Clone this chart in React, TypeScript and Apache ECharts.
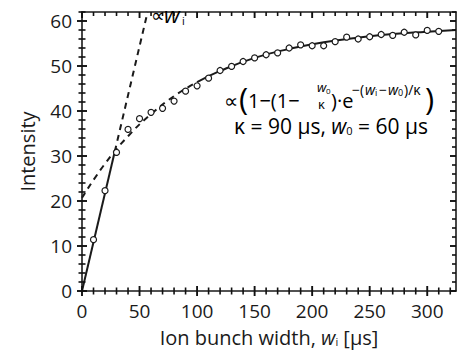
import React, { useEffect, useRef } from "react";
import * as echarts from "echarts";

// Measured data points (ion bunch width [µs], intensity)
const widths = [10, 20, 30, 40, 50, 60, 70, 80, 90, 100, 110, 120, 130, 140, 150, 160, 170, 180, 190, 200, 210, 220, 230, 240, 250, 260, 270, 280, 290, 300, 310];
const intensities = [11.4, 22.3, 30.8, 35.9, 38.3, 39.7, 40.6, 42.2, 44.4, 45.6, 47.3, 49.0, 49.9, 51.0, 51.8, 52.5, 52.9, 54.0, 54.7, 54.5, 54.5, 55.4, 56.4, 56.0, 56.5, 57.0, 56.8, 57.5, 56.9, 57.9, 57.7];

// Fit curve: dashed part and solid part
const fitDashX = [0, 20, 40, 60, 80, 100];
const fitDashY = [20.7, 28.3, 34.4, 39.3, 43.3, 46.4];
const fitSolidX = [100, 120, 150, 180, 210, 240, 270, 300, 325];
const fitSolidY = [46.4, 48.9, 51.8, 53.8, 55.3, 56.3, 57.1, 57.6, 58.0];

// Linear (∝ w_i) line: solid part and dashed extension
const linSolidX = [0, 28.5];
const linSolidY = [0, 31];
const linDashX = [28.5, 57];
const linDashY = [31, 62];

// Axis ranges and tick labels
const X_MIN = 0, X_MAX = 325, X_MAJOR = 50, X_MINOR = 10;
const Y_MIN = 0, Y_MAX = 62, Y_MAJOR = 10, Y_MINOR = 2;
const xTicks = [0, 50, 100, 150, 200, 250, 300];
const yTicks = [0, 10, 20, 30, 40, 50, 60];

const FONT = "Open Sans";
const INK = "#1a1a1a";

const pair = (xs: number[], ys: number[]) => xs.map((x, i) => [x, ys[i]]);

// tick marks: [value, side (0 bottom, 1 top, 2 left, 3 right), major]
function tickItems() {
  const items: number[][] = [];
  for (let v = X_MIN; v <= X_MAX; v += X_MINOR) {
    const m = v % X_MAJOR === 0 ? 1 : 0;
    items.push([v, 0, m], [v, 1, m]);
  }
  for (let v = Y_MIN; v <= Y_MAX; v += Y_MINOR) {
    const m = v % Y_MAJOR === 0 ? 1 : 0;
    items.push([v, 2, m], [v, 3, m]);
  }
  return items;
}

export default function App() {
  const ref = useRef<HTMLDivElement>(null);
  useEffect(() => {
    if (!ref.current) return;
    const chart = echarts.init(ref.current, undefined, { renderer: "svg" });
    const common = { type: "value" as const, splitLine: { show: false }, axisTick: { show: false }, minorTick: { show: false } };
    const xBase = { ...common, min: X_MIN, max: X_MAX, interval: X_MAJOR };
    const yBase = { ...common, min: Y_MIN, max: Y_MAX, interval: Y_MAJOR };
    const line = { show: true, onZero: false, lineStyle: { color: INK, width: 1.6 } };
    const sub = { fontSize: 11, padding: [9, 0, 0, 0], fontFamily: FONT, color: INK };
    const txt = (x: number, y: number, text: string, fontSize: number, italic = false, lh?: number) => ({
      type: "text", x, y, z: 10,
      style: { text, fontSize, fontFamily: FONT, fontStyle: italic ? "italic" : "normal", fill: "#000",
        verticalAlign: "middle", align: "left", lineHeight: lh ?? Math.round(fontSize * 1.05) },
    });
    chart.setOption({
      animation: false,
      backgroundColor: "#fff",
      textStyle: { fontFamily: FONT, color: INK },
      grid: { left: 82, right: 2, top: 12, bottom: 71, containLabel: false, outerBoundsMode: "none" },
      xAxis: [
        {
          ...xBase,
          position: "bottom",
          axisLine: line,
          axisLabel: { show: true, fontSize: 19, color: INK, margin: 10, fontFamily: FONT,
            formatter: (v: number) => (xTicks.includes(v) ? String(v) : "") },
          name: "Ion bunch width, {i|w}{s|i} [μs]",
          nameLocation: "middle",
          nameGap: 36,
          nameTextStyle: {
            fontSize: 20, color: INK, fontFamily: FONT,
            rich: { i: { fontSize: 20, fontStyle: "italic", fontFamily: FONT, color: INK }, s: sub },
          },
        },
        { ...xBase, position: "top", axisLine: line, axisLabel: { show: false } },
      ],
      yAxis: [
        {
          ...yBase,
          position: "left",
          axisLine: line,
          axisLabel: { show: true, fontSize: 19, color: INK, margin: 10, fontFamily: FONT,
            formatter: (v: number) => (yTicks.includes(v) ? String(v) : "") },
          name: "Intensity",
          nameLocation: "middle",
          nameGap: 45,
          nameTextStyle: { fontSize: 20, color: INK, fontFamily: FONT },
        },
        { ...yBase, position: "right", axisLine: line, axisLabel: { show: false } },
      ],
      series: [
        {
          type: "custom",
          data: tickItems(),
          clip: false,
          z: 4,
          renderItem: (_p: any, api: any) => {
            const v = api.value(0);
            const side = api.value(1);
            const major = api.value(2) === 1;
            const cross = major ? 5 : 3.5;
            const inner = major ? 6 : 4;
            const style = { stroke: "#111", lineWidth: major ? 1.9 : 1.6 };
            let shape;
            if (side === 0) {
              const p = api.coord([v, Y_MIN]);
              shape = { x1: p[0], y1: p[1] - cross, x2: p[0], y2: p[1] + cross };
            } else if (side === 1) {
              const p = api.coord([v, Y_MAX]);
              shape = { x1: p[0], y1: p[1], x2: p[0], y2: p[1] + inner };
            } else if (side === 2) {
              const p = api.coord([X_MIN, v]);
              shape = { x1: p[0] - cross, y1: p[1], x2: p[0] + cross, y2: p[1] };
            } else {
              const p = api.coord([X_MAX, v]);
              shape = { x1: p[0] - inner, y1: p[1], x2: p[0], y2: p[1] };
            }
            return { type: "line", shape, style };
          },
        },
        { type: "line", data: pair(linSolidX, linSolidY), showSymbol: false, lineStyle: { color: INK, width: 2 }, clip: true, z: 2 },
        { type: "line", data: pair(linDashX, linDashY), showSymbol: false, lineStyle: { color: INK, width: 2, type: [6, 5] }, clip: true, z: 2 },
        { type: "line", data: pair(fitDashX, fitDashY), showSymbol: false, smooth: true, lineStyle: { color: INK, width: 2, type: [6, 5] }, clip: true, z: 2 },
        { type: "line", data: pair(fitSolidX, fitSolidY), showSymbol: false, smooth: true, lineStyle: { color: INK, width: 2 }, clip: true, z: 2 },
        {
          type: "scatter", data: pair(widths, intensities), symbol: "circle", symbolSize: 6,
          itemStyle: { color: "#fff", borderColor: INK, borderWidth: 1.2, opacity: 1 }, z: 3,
        },
      ],
      graphic: [
        txt(151, 15, "∝", 19),
        txt(164, 14, "w", 22, true),
        txt(182, 20, "i", 11),
        // formula line 1
        txt(224, 100, "∝", 20),
        txt(239, 98, "(", 31, false, 22),
        txt(248, 100, "1−(1−", 20),
        txt(317, 87, "w", 13, true, 11),
        txt(326, 90, "0", 8, false, 8),
        txt(318, 104, "κ", 13, false, 10),
        txt(331, 100, ")·e", 20),
        txt(352, 89, "−(", 14, false, 12),
        txt(365, 89, "w", 14, true, 12),
        txt(375, 92, "i", 9, false, 9),
        txt(379, 89, "−", 14, false, 12),
        txt(388, 89, "w", 14, true, 12),
        txt(398, 92, "0", 9, false, 9),
        txt(404, 89, ")/κ", 14, false, 12),
        txt(425, 98, ")", 31, false, 22),
        // formula line 2
        {
          type: "text", x: 331, y: 126, z: 10,
          style: { text: "κ = 90 μs, {i|w}{s|0} = 60 μs", fontSize: 21, fontFamily: FONT, fill: "#000", verticalAlign: "middle", align: "center", lineHeight: 20,
            rich: { i: { fontSize: 21, fontStyle: "italic", fontFamily: FONT, fill: "#000", lineHeight: 20 }, s: { fontSize: 11, padding: [9, 0, 0, 0], fontFamily: FONT, fill: "#000", lineHeight: 11 } } },
        },
      ],
    });
    return () => chart.dispose();
  }, []);
  return <div ref={ref} style={{ position: "absolute", left: 0, top: 0, width: 458, height: 362 }} />;
}
